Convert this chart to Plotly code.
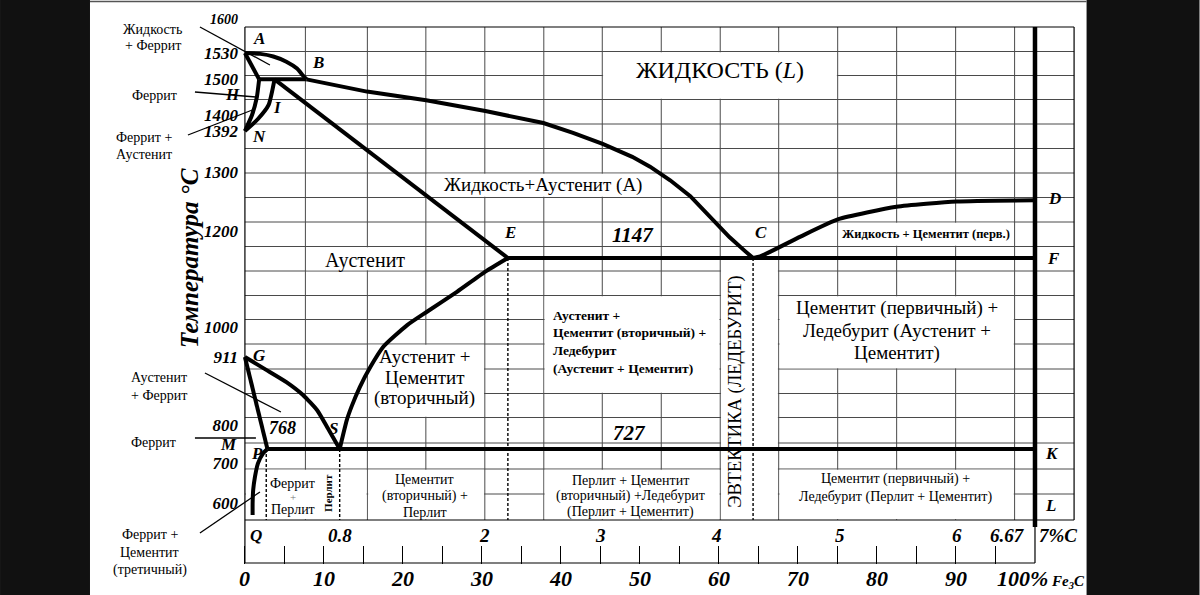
import numpy as np
import plotly.graph_objects as go

SERIF = "Liberation Serif"

# ---------------- values ----------------
# Schematic (non-linear) temperature scale of the drawing: °C -> drawing row
CAL_T = [500, 550, 600, 700, 727, 800, 911, 1000, 1147, 1200, 1300, 1392, 1400, 1500, 1530, 1600]
CAL_Y = [543, 523, 503, 463, 449, 425, 357, 327, 258, 231, 172, 131, 115, 79, 53, 18]

Y_TICKS = [1600, 1530, 1500, 1400, 1392, 1300, 1200, 1000, 911, 800, 700, 600]
FE3C_TICKS = [0, 10, 20, 30, 40, 50, 60, 70, 80, 90]
FE3C_MINOR = [5, 15, 25, 35, 45, 55, 65, 75, 85, 95]
C_MARKS = [0.8, 2, 3, 4, 5, 6, 6.67, 7]
C_MARK_TEXT = ["0.8", "2", "3", "4", "5", "6", "6.67", "7%C"]
C_FE3C = 6.67  # %C of cementite (100 % Fe3C)

# phase boundaries: carbon, %C  /  temperature, °C
AB_C = [0.0, 0.13, 0.24, 0.35, 0.44, 0.49, 0.52]
AB_T = [1530, 1529, 1526, 1520, 1512, 1504, 1499]
AH_C = [0.0, 0.12]
AH_T = [1530, 1499]
HB_C = [0.12, 0.52]
HB_T = [1499, 1499]
BC_C = [0.52, 1.03, 1.53, 2.03, 2.52, 2.77, 3.02, 3.27, 3.42, 3.59, 3.76, 3.92, 4.09, 4.22, 4.29]
BC_T = [1499, 1465, 1441, 1411, 1396, 1388, 1363, 1334, 1312, 1286, 1259, 1225, 1188, 1161, 1147]
HN_C = [0.12, 0.10, 0.06, 0.0]
HN_T = [1499, 1448, 1400, 1392]
JN_C = [0.25, 0.20, 0.11, 0.0]
JN_T = [1499, 1428, 1398, 1392]
JE_C = [0.25, 2.22]
JE_T = [1499, 1147]
ECF_C = [2.22, 6.67]
ECF_T = [1147, 1147]
CD_C = [4.29, 4.35, 4.69, 5.01, 5.50, 6.01, 6.67]
CD_T = [1147, 1150, 1189, 1220, 1241, 1250, 1252]
ES_C = [2.22, 2.03, 1.79, 1.54, 1.37, 1.17, 1.06, 0.97, 0.90, 0.86, 0.80]
ES_T = [1147, 1118, 1075, 1033, 1004, 942, 895, 862, 830, 808, 727]
GS_C = [0.0, 0.18, 0.35, 0.49, 0.61, 0.70, 0.80]
GS_T = [911, 890, 870, 849, 824, 790, 727]
GP_C = [0.0, 0.19]
GP_T = [911, 727]
PK_C = [0.19, 6.67]
PK_T = [727, 727]
PQ_C = [0.19, 0.155, 0.11, 0.085, 0.07, 0.065, 0.065]
PQ_T = [727, 719, 699, 666, 633, 599, 570]
DASH_C = [0.18, 0.80, 2.22, 4.29]
DASH_T = [727, 727, 1147, 1147]

# ---------------- drawing geometry (styles / positions) ----------------
X0_PX = 245.0          # pixel of 0 %C
PX_PER_C = 118.5
X_RANGE = [-0.05, 7.05]
Y_BOTTOM, Y_TOP = 564, 10     # vertical drawing units == pixels
ML = X0_PX + X_RANGE[0] * PX_PER_C
MR = 1200 - (X0_PX + X_RANGE[1] * PX_PER_C)
MT, MB = Y_TOP, 595 - Y_BOTTOM
PW = 1200 - ML - MR
PH = 595 - MT - MB

GRID_TOP, GRID_BOTTOM, BOX_BOTTOM = 27, 520, 563
GRID_ROWS = [51.5, 75.5, 99.5, 124, 148.5, 173, 197.5, 222, 246.5, 271, 295.5,
             319.5, 344, 369, 393.5, 417.5, 443, 469, 494]
GRID_COLS_PX = [305.5, 367.5, 426, 485, 544, 602.5, 661.5, 720.5, 779, 838, 897, 956, 1015]


def ty(T):
    return np.interp(np.asarray(T, dtype=float), CAL_T, CAL_Y)


def cx(px):
    return (px - X0_PX) / PX_PER_C


def paper(px, py):
    return (px - ML) / PW, (Y_BOTTOM - py) / PH


fig = go.Figure()


def add_line(C, T, shape="linear", width=4):
    fig.add_trace(go.Scatter(
        x=C, y=ty(T), mode="lines", hoverinfo="skip",
        line=dict(color="black", width=width, shape=shape,
                  smoothing=0.5 if shape == "spline" else None)))


add_line(AB_C, AB_T, "spline")
add_line(AH_C, AH_T)
add_line(HB_C, HB_T)
add_line(BC_C, BC_T)
add_line(HN_C, HN_T, "spline")
add_line(JN_C, JN_T, "spline")
add_line(JE_C, JE_T)
add_line(ECF_C, ECF_T)
add_line(CD_C, CD_T, "spline")
add_line(ES_C, ES_T, "spline")
add_line(GS_C, GS_T, "spline")
add_line(GP_C, GP_T)
add_line(PK_C, PK_T)
add_line(PQ_C, PQ_T, "spline")

# cementite composition line
fig.add_trace(go.Scatter(x=[C_FE3C, C_FE3C], y=[GRID_TOP, 527], mode="lines",
                         hoverinfo="skip", line=dict(color="black", width=4.5)))
# dashed verticals
for c, t in zip(DASH_C, DASH_T):
    fig.add_trace(go.Scatter(x=[c, c], y=[float(ty(t)), GRID_BOTTOM], mode="lines",
                             hoverinfo="skip",
                             line=dict(color="black", width=1.4, dash="3px,2px")))

shapes = []
GRID_COLOR = "#4a4a4a"
for px in GRID_COLS_PX:
    shapes.append(dict(type="line", xref="x", yref="y", x0=cx(px), x1=cx(px),
                       y0=GRID_TOP, y1=GRID_BOTTOM, layer="below",
                       line=dict(color=GRID_COLOR, width=1)))
for py in GRID_ROWS:
    shapes.append(dict(type="line", xref="x", yref="y", x0=0, x1=7, y0=py, y1=py,
                       layer="below", line=dict(color=GRID_COLOR, width=1)))

# white label boxes that interrupt the grid (px: left, right, top, bottom)
BOXES = [
    (602.5, 838, 51.5, 99.5),
    (426, 661.5, 173, 197.5),
    (305.5, 426, 246.5, 271),
    (838, 1015, 222, 246.5),
    (779, 1015, 295.5, 369),
    (544, 720.5, 295.5, 393.5),
    (720.5, 779, 259, 520),
    (367.5, 485, 344, 417.5),
    (245, 367.5, 469, 520),
    (367.5, 485, 469, 520),
    (544, 720.5, 469, 520),
    (779, 1015, 469, 520),
]
for l, r, t, b in BOXES:
    shapes.append(dict(type="rect", xref="x", yref="y", x0=cx(l + 0.8), x1=cx(r - 0.8),
                       y0=t + 0.8, y1=b - 0.8, layer="below", fillcolor="white",
                       line=dict(width=0)))

# frame
FRAME = dict(color="black", width=1.2)
shapes += [
    dict(type="line", xref="x", yref="y", x0=0, x1=7, y0=GRID_TOP, y1=GRID_TOP, line=FRAME),
    dict(type="line", xref="x", yref="y", x0=7, x1=7, y0=GRID_TOP, y1=GRID_BOTTOM, line=FRAME),
    dict(type="line", xref="x", yref="y", x0=0, x1=7, y0=GRID_BOTTOM, y1=GRID_BOTTOM, line=FRAME),
    dict(type="line", xref="x", yref="y", x0=0, x1=0, y0=GRID_TOP, y1=BOX_BOTTOM, line=FRAME),
    dict(type="line", xref="x", yref="y", x0=0, x1=C_FE3C, y0=BOX_BOTTOM, y1=BOX_BOTTOM, line=FRAME),
    dict(type="line", xref="x", yref="y", x0=C_FE3C, x1=C_FE3C, y0=GRID_BOTTOM, y1=BOX_BOTTOM, line=FRAME),
]

# leader lines from the side labels
LEADERS = [((200, 27), (270, 65)), ((195, 92), (256, 97)), ((188, 135), (255, 109)),
           ((205, 373), (281, 412)), ((195, 438), (256, 438)), ((200, 533), (260, 492))]
for (a, b), (c, d) in LEADERS:
    x0, y0 = paper(a, b)
    x1, y1 = paper(c, d)
    shapes.append(dict(type="line", xref="paper", yref="paper", x0=x0, y0=y0, x1=x1, y1=y1,
                       line=dict(color="black", width=1.3)))

# black side bands of the picture + thin top edge
for l, r in [(0, 90), (1087, 1200)]:
    x0, y0 = paper(l, 600)
    x1, y1 = paper(r, -5)
    shapes.append(dict(type="rect", xref="paper", yref="paper", x0=x0, x1=x1, y0=y0, y1=y1,
                       fillcolor="#111111", line=dict(width=0), layer="above"))
x0, y0 = paper(90, 1.5)
x1, _ = paper(1087, 1.5)
shapes.append(dict(type="line", xref="paper", yref="paper", x0=x0, x1=x1, y0=y0, y1=y0,
                   line=dict(color="#555555", width=1.5)))

ANN = []


def label(text, px, py, size=17, bold=True, italic=True, xanchor="center", angle=0,
          color="black", xshift=0):
    t = text
    if italic:
        t = f"<i>{t}</i>"
    if bold:
        t = f"<b>{t}</b>"
    x, y = paper(px, py)
    ANN.append(dict(text=t, x=x, y=y, xref="paper", yref="paper", showarrow=False,
                    xanchor=xanchor, yanchor="middle", textangle=angle, xshift=xshift,
                    font=dict(family=SERIF, size=size, color=color)))


def block(lines, px, py0, dy, size, bold=False, xanchor="center"):
    for i, s in enumerate(lines):
        label(s, px, py0 + i * dy, size=size, bold=bold, italic=False, xanchor=xanchor)


# point letters
for s, px, py in [("A", 259, 38), ("B", 318, 62), ("H", 233, 95), ("I", 278, 108),
                  ("N", 259, 136), ("E", 510, 232), ("C", 761, 232), ("D", 1055, 199),
                  ("F", 1054, 258), ("G", 260, 355), ("S", 334, 428), ("P", 257, 453),
                  ("M", 229, 444), ("K", 1052, 453), ("L", 1051, 505), ("Q", 256, 535)]:
    label(s, px, py, size=17)

label("1147", 633, 235, size=21)
label("727", 630, 433, size=21)
label("768", 283, 428, size=18)

# %C scale inside the bottom strip
C_SHIFT = [0, 3, 0, -2, 3, 1, -27, -16]
for c, s, sh in zip(C_MARKS, C_MARK_TEXT, C_SHIFT):
    label(s, X0_PX + c * PX_PER_C, 535, size=19, xshift=sh)
# % Fe3C scale under the strip
for p in FE3C_TICKS:
    label(str(p), X0_PX + p * C_FE3C / 100 * PX_PER_C, 578, size=22)
label("100%<span style='font-size:15px'> Fe<sub>3</sub>C</span>", 995, 578, size=22,
      xanchor="left")

# axis title
label("Температура °С", 189, 258, size=25, angle=-90)

# side labels
block(["Жидкость", "+ Феррит"], 153, 29, 16, 14)
block(["Феррит"], 155, 96, 0, 14)
block(["Феррит +", "Аустенит"], 144, 137, 18, 14)
block(["Аустенит", "+ Феррит"], 159, 377, 18, 14)
block(["Феррит"], 154, 442, 0, 14)
block(["Феррит +", "Цементит", "(третичный)"], 150, 534, 18, 14)

# region labels
label("ЖИДКОСТЬ (<i>L</i>)", 720, 70, size=24, bold=False, italic=False)
label("Жидкость+Аустенит (А)", 543, 185, size=19, bold=False, italic=False)
label("Аустенит", 365, 260, size=20, bold=False, italic=False)
block(["Аустенит +", "Цементит", "(вторичный)"], 425, 356, 21, 19)
block(["Аустенит +", "Цементит (вторичный) +", "Ледебурит", "(Аустенит + Цементит)"],
      551, 315, 17.7, 13.5, bold=True, xanchor="left")
label("Жидкость + Цементит (перв.)", 926, 234, size=12.5, bold=True, italic=False)
block(["Цементит (первичный) +", "Ледебурит (Аустенит +", "Цементит)"], 897, 308, 22.5, 19)
label("ЭВТЕКТИКА (ЛЕДЕБУРИТ)", 735, 392, size=18.5, bold=False, italic=False, angle=-90)
block(["Феррит"], 293, 483, 0, 14)
label("+", 293, 497, size=11, bold=False, italic=False, color="#777777")
block(["Перлит"], 293, 509, 0, 14)
label("Перлит", 328, 493, size=11, bold=True, italic=False, angle=-90)
block(["Цементит", "(вторичный) +", "Перлит"], 425, 479, 16.5, 14)
block(["Перлит + Цементит", "(вторичный) +Ледебурит", "(Перлит + Цементит)"], 631, 480, 16, 14)
block(["Цементит (первичный) +", "Ледебурит (Перлит + Цементит)"], 896, 479, 18, 14)

y_ticktext = [f"<b><i>{t}</i></b>" for t in Y_TICKS]
y_ticktext[0] = "<b><i><span style='font-size:14px'>1600</span></i></b>"

fig.update_layout(
    width=1200, height=595,
    margin=dict(l=ML, r=MR, t=MT, b=MB, pad=0),
    paper_bgcolor="white", plot_bgcolor="white",
    showlegend=False, hovermode=False,
    shapes=shapes, annotations=ANN,
    xaxis=dict(range=X_RANGE, showgrid=False, zeroline=False, showline=False,
               automargin=False, fixedrange=True, showticklabels=False,
               tickmode="array", tickvals=[p * C_FE3C / 100 for p in FE3C_TICKS],
               ticks="inside", ticklen=18, tickwidth=1, tickcolor="black",
               minor=dict(tickmode="array", tickvals=[p * C_FE3C / 100 for p in FE3C_MINOR],
                          ticks="inside", ticklen=18, tickwidth=1, tickcolor="black")),
    yaxis=dict(range=[Y_BOTTOM, Y_TOP], showgrid=False, zeroline=False, showline=False,
               automargin=False, fixedrange=True,
               tickmode="array", tickvals=list(ty(Y_TICKS)), ticktext=y_ticktext,
               ticks="", tickfont=dict(family=SERIF, size=17, color="black")),
)

fig.write_html(
    "out.html",
    config={"displayModeBar": False},
    post_script="document.body.style.margin='0';document.body.style.overflow='hidden';",
)
